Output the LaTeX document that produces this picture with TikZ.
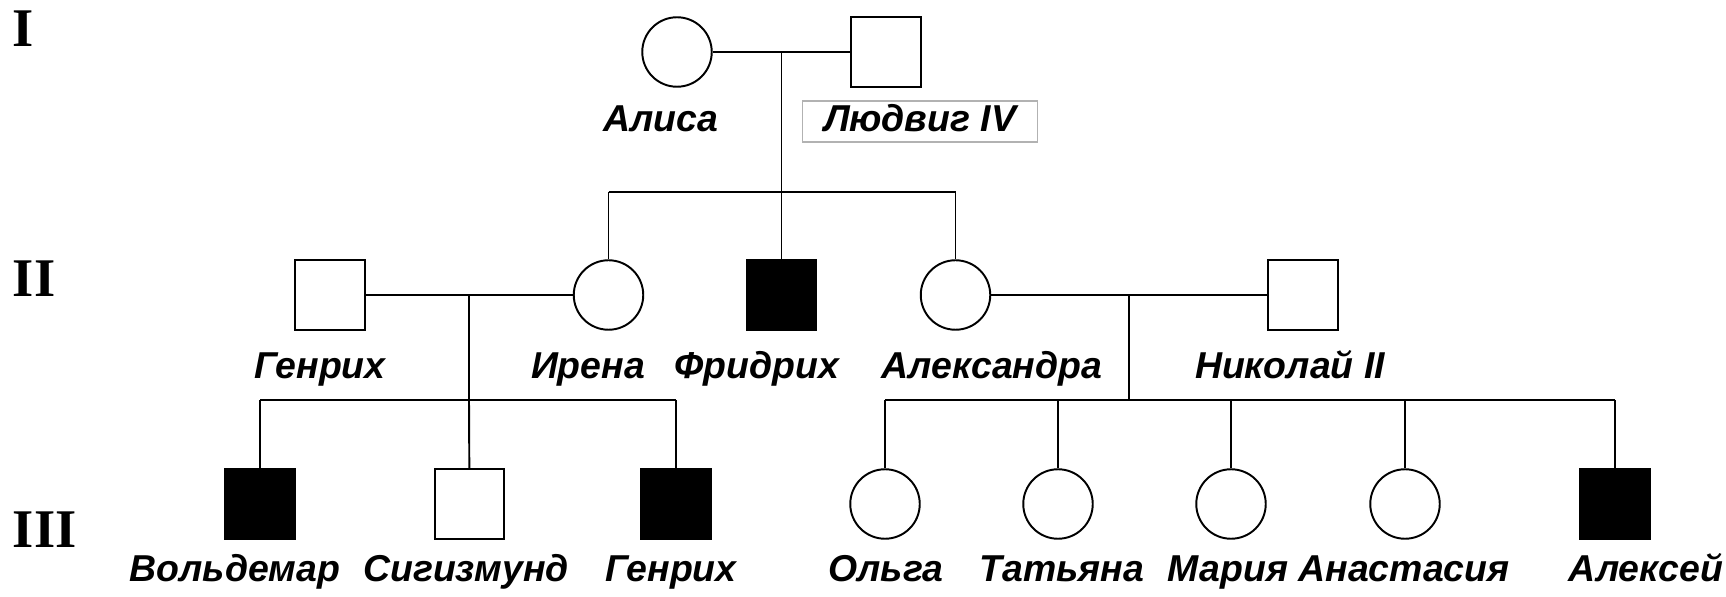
\documentclass[tikz,border=0pt]{standalone}
\usepackage{fontspec}
\setmainfont{Liberation Sans}
\newfontfamily\genfont{Liberation Serif}
\begin{document}
\begin{tikzpicture}[x=0.02cm, y=-0.02cm,
            line width=1.1pt,
            male/.style={draw, rectangle, minimum size=1.39cm, inner sep=0pt},
            female/.style={draw, circle, minimum size=1.39cm, inner sep=0pt},
            ill/.style={fill=black},
            who/.style={anchor=base, inner sep=0pt, font=\fontsize{21.3}{25}\selectfont\bfseries\itshape},
            gen/.style={anchor=base west, inner sep=0pt, font=\fontsize{31}{36}\selectfont\genfont\bfseries}]
            \useasboundingbox (0,0) rectangle (1726,597);
            \node[gen] (g1) at (12,47) {I};
            \node[gen] (g2) at (12,297) {II};
            \node[gen] (g3) at (12,547) {III};
            \node[female] (alisa) at (677,52) {};
            \node[male] (ludwig) at (886,52) {};
            \node[who] (alisaname) at (661,132) {Алиса};
            \node[who, draw=black!30, line width=0.6pt, text height=0.5cm, text depth=0.08cm, inner ysep=0.12cm, minimum width=4.7cm] (ludwigname) at (920,132) {Людвиг IV};
            \node[male] (genrikh) at (330,295) {};
            \node[female] (irena) at (608.5,295) {};
            \node[male, ill] (fridrich) at (781.5,295) {};
            \node[female] (alexandra) at (955.5,295) {};
            \node[male] (nikolai) at (1303,295) {};
            \node[who] (genrikhname) at (320,378) {Генрих};
            \node[who] (irenaname) at (588,378) {Ирена};
            \node[who] (fridrichname) at (757,378) {Фридрих};
            \node[who] (alexandraname) at (992,378) {Александра};
            \node[who] (nikolainame) at (1290,378) {Николай II};
            \node[male, ill] (woldemar) at (260,504) {};
            \node[male] (sigismund) at (469.5,504) {};
            \node[male, ill] (genrikhjr) at (676,504) {};
            \node[female] (olga) at (885,504) {};
            \node[female] (tatiana) at (1058,504) {};
            \node[female] (maria) at (1231,504) {};
            \node[female] (anastasia) at (1405,504) {};
            \node[male, ill] (alexei) at (1615,504) {};
            \node[who] (woldemarname) at (235,581) {Вольдемар};
            \node[who] (sigismundname) at (466,581) {Сигизмунд};
            \node[who] (genrikhjrname) at (671,581) {Генрих};
            \node[who] (olganame) at (886,581) {Ольга};
            \node[who] (tatiananame) at (1062,581) {Татьяна};
            \node[who] (marianame) at (1228,581) {Мария};
            \node[who] (anastasianame) at (1404,581) {Анастасия};
            \node[who] (alexeiname) at (1646,581) {Алексей};
            \coordinate (m1) at (781.5,52);
            \coordinate (s1) at (781.5,192);
            \coordinate (m2) at (469,295);
            \coordinate (s2) at (469,400);
            \coordinate (m3) at (1129,295);
            \coordinate (s3) at (1129,400);
            \coordinate (am) at (1118,295);
            \draw (alisa) -- (ludwig);
            \draw (m1) -- (s1);
            \draw (s1 -| irena) -- (s1 -| alexandra);
            \draw (s1 -| irena) -- (irena);
            \draw (s1) -- (fridrich);
            \draw (s1 -| alexandra) -- (alexandra);
            \draw (genrikh) -- (irena);
            \draw (m2) -- (s2);
            \draw (s2 -| woldemar) -- (s2 -| genrikhjr);
            \draw (s2 -| woldemar) -- (woldemar);
            \draw (s2) -- (sigismund);
            \draw (s2 -| genrikhjr) -- (genrikhjr);
            \draw (alexandra) -- (nikolai);
            \draw[line width=1.6pt] (alexandra) -- (am);
            \draw (m3) -- (s3);
            \draw (s3 -| olga) -- (s3 -| alexei);
            \draw (s3 -| olga) -- (olga);
            \draw (s3 -| tatiana) -- (tatiana);
            \draw (s3 -| maria) -- (maria);
            \draw (s3 -| anastasia) -- (anastasia);
            \draw (s3 -| alexei) -- (alexei);
        \end{tikzpicture}
\end{document}
